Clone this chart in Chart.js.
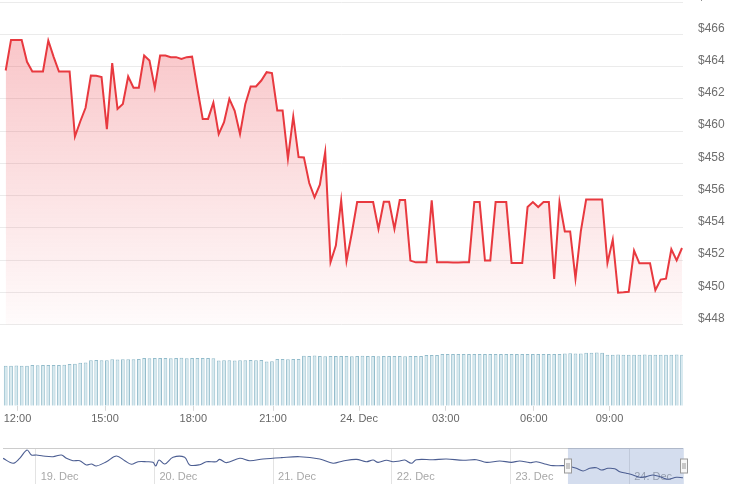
<!DOCTYPE html>
<html>
<head>
<meta charset="utf-8">
<script src="https://cdn.jsdelivr.net/npm/chart.js@4.4.0/dist/chart.umd.min.js"></script>
<style>
body{margin:0;background:#fff}
#wrap{position:relative;width:749px;height:495px;overflow:hidden}
#main{position:absolute;left:0;top:-5px}
#nav{position:absolute;left:0;top:440px}
</style>
</head>
<body>
<div id="wrap">
<canvas id="main" width="749" height="433"></canvas>
<canvas id="nav" width="749" height="50"></canvas>
</div>
<script>
// price, one point per bar (23 Dec ~11:35 -> 24 Dec ~10:55)
const prices = [
463.76, 465.66, 465.66, 465.66, 464.30, 463.70, 463.70, 463.70, 465.62, 464.61,
463.70, 463.70, 463.70, 459.67, 460.60, 461.45, 463.45, 463.43, 463.35, 460.13,
464.22, 461.38, 461.69, 463.39, 462.70, 462.70, 464.69, 464.38, 462.70, 464.69,
464.69, 464.59, 464.59, 464.48, 464.59, 464.62, 462.63, 460.76, 460.76, 461.77,
459.82, 460.56, 462.00, 461.26, 459.82, 461.69, 462.77, 462.77, 463.14, 463.66,
463.60, 461.28, 461.28, 458.29, 460.91, 458.39, 458.37, 456.78, 455.89, 456.68,
458.70, 451.87, 452.90, 455.70, 451.95, 453.68, 455.60, 455.60, 455.60, 455.60,
453.93, 455.62, 455.62, 453.93, 455.73, 455.73, 451.97, 451.86, 451.86, 451.86,
455.70, 451.86, 451.86, 451.86, 451.85, 451.85, 451.86, 451.86, 455.60, 455.60,
451.97, 451.97, 455.60, 455.60, 455.60, 451.82, 451.82, 451.82, 455.29, 455.60,
455.29, 455.60, 455.60, 450.83, 455.60, 453.78, 453.78, 450.85, 453.78, 455.76,
455.76, 455.76, 455.76, 451.82, 453.27, 449.98, 450.00, 450.03, 452.59, 451.80,
451.80, 451.80, 450.13, 450.79, 450.85, 452.67, 451.98, 452.75
]

const volumes = [
40.0, 40.0, 40.2, 40.0, 40.0, 40.7, 40.6, 40.7, 40.8, 40.7,
40.7, 40.9, 41.7, 41.9, 43.0, 43.2, 45.5, 45.8, 45.6, 45.5,
46.5, 46.3, 46.6, 46.5, 46.4, 46.8, 47.7, 47.5, 47.7, 47.8,
47.7, 47.6, 47.7, 47.9, 47.5, 47.7, 47.8, 47.7, 47.7, 47.6,
45.3, 45.6, 45.4, 45.3, 45.5, 45.6, 45.7, 45.6, 45.8, 44.3,
44.6, 46.7, 46.7, 46.6, 46.8, 46.7, 50.0, 49.8, 50.3, 49.7,
49.6, 49.7, 49.8, 49.7, 49.7, 49.6, 49.7, 49.9, 49.7, 49.7,
49.6, 49.7, 49.8, 49.7, 49.7, 49.6, 49.7, 49.7, 49.8, 50.7,
50.8, 50.6, 51.7, 51.7, 51.8, 51.7, 51.7, 51.6, 51.7, 51.7,
51.7, 51.8, 51.7, 51.7, 51.6, 51.7, 51.7, 51.7, 51.8, 51.7,
51.7, 51.6, 51.7, 51.7, 51.7, 52.3, 52.4, 52.3, 52.3, 53.0,
53.0, 53.1, 53.0, 51.0, 51.0, 51.1, 51.0, 50.9, 51.0, 51.0,
51.1, 51.0, 51.0, 50.9, 51.0, 51.0, 51.1, 51.0
]

const timeTickPos = [2.22, 18.65, 35.23, 50.2, 66.35, 82.65, 99.17, 113.39]
const timeTickLabels = ['12:00', '15:00', '18:00', '21:00', '24. Dec', '03:00', '06:00', '09:00']
const priceTicks = [448, 450, 452, 454, 456, 458, 460, 462, 464, 466, 468]

// navigator: days counted from 18 Dec 00:00
const navDays = [
0.725, 0.809, 0.865, 0.927, 0.964, 1.006, 1.062, 1.146, 1.217, 1.259,
1.314, 1.371, 1.427, 1.469, 1.511, 1.596, 1.680, 1.750, 1.806, 1.862,
1.933, 1.988, 2.011, 2.039, 2.087, 2.157, 2.255, 2.297, 2.382, 2.438,
2.522, 2.550, 2.607, 2.719, 2.803, 2.915, 3.070, 3.224, 3.393, 3.505,
3.589, 3.702, 3.786, 3.842, 3.884, 3.955, 4.010, 4.067, 4.109, 4.165,
4.207, 4.347, 4.460, 4.600, 4.713, 4.797, 4.909, 5.008, 5.078, 5.162,
5.218, 5.302, 5.358, 5.442, 5.484, 5.555, 5.611, 5.667, 5.724, 5.766,
5.821, 5.878, 5.920, 5.976, 6.032, 6.089, 6.145, 6.201, 6.271, 6.327,
6.398, 6.453
]
const navPrices = [
475.0, 469.2, 475.0, 484.7, 478.9, 478.9, 477.7, 476.9, 478.9, 475.0,
472.2, 472.2, 467.2, 468.3, 466.0, 471.0, 477.7, 472.2, 468.0, 471.0,
471.0, 470.3, 466.0, 473.0, 468.3, 476.2, 476.2, 467.2, 467.5, 471.0,
471.0, 473.8, 469.9, 475.0, 472.2, 474.2, 475.8, 476.9, 474.2, 469.2,
471.9, 473.8, 471.0, 473.0, 470.3, 472.7, 471.0, 471.9, 473.0, 469.2,
473.4, 473.4, 474.2, 472.7, 473.4, 470.3, 471.9, 470.3, 471.9, 469.9,
471.0, 468.0, 466.4, 466.4, 466.0, 463.3, 460.2, 463.3, 464.0, 461.3,
463.3, 462.8, 459.3, 457.5, 455.5, 452.8, 453.5, 455.5, 452.8, 450.4,
452.8, 452.3
]
const navDayTicks = [1, 2, 3, 4, 5, 6]
const navDayLabels = ['19. Dec', '20. Dec', '21. Dec', '22. Dec', '23. Dec', '24. Dec']
const navRange = [5.484, 6.46]

Chart.defaults.font.family = '"Liberation Sans", Arial, sans-serif'

const priceData = prices.map((p, i) => ({x: i, y: p}))
const volData = volumes.map((v, i) => ({x: i, y: v}))

function redFill(c) {
  const chart = c.chart
  const area = chart.chartArea
  if (!area) return 'rgba(234,57,67,0.15)'
  const g = chart.ctx.createLinearGradient(0, area.top, 0, chart.scales.y.getPixelForValue(448))
  g.addColorStop(0, 'rgba(234,57,67,0.32)')
  g.addColorStop(1, 'rgba(234,57,67,0.02)')
  return g
}

new Chart(document.getElementById('main'), {
  type: 'line',
  data: {
    datasets: [
      {type: 'line', data: priceData, yAxisID: 'y', borderColor: '#e8393f', borderWidth: 2,
        pointRadius: 0, tension: 0, fill: {value: 448}, backgroundColor: redFill},
      {type: 'bar', data: volData, yAxisID: 'yv', backgroundColor: '#d6e9ef', borderColor: '#93bccb',
        borderWidth: 1, barPercentage: 0.7, categoryPercentage: 1}
    ]
  },
  options: {
    responsive: false,
    animation: false,
    layout: {padding: 0},
    plugins: {legend: {display: false}, tooltip: {enabled: false}},
    scales: {
      x: {
        type: 'linear', min: -1.07, max: 127.19, offset: false,
        grid: {drawOnChartArea: false, offset: false, tickLength: 5, color: '#d8d8d8'},
        border: {display: false},
        ticks: {padding: 2, color: '#666', font: {size: 11}, maxRotation: 0, autoSkip: false,
          callback: (v, i) => timeTickLabels[i]},
        afterBuildTicks: s => { s.ticks = timeTickPos.map(v => ({value: v})) }
      },
      y: {
        position: 'right', min: 442.96, max: 468,
        grid: {color: '#ebebeb', drawTicks: true, tickLength: 15, tickColor: 'rgba(0,0,0,0)'},
        border: {display: false},
        ticks: {padding: 0, labelOffset: -6, color: '#6e6e6e', font: {size: 12},
          callback: v => '$' + v},
        afterBuildTicks: s => { s.ticks = priceTicks.map(v => ({value: v})) },
        afterFit: s => { s.width = 66 }
      },
      yv: {position: 'right', display: false, min: 0, max: 403}
    }
  }
})

const navMask = {
  id: 'navMask',
  beforeDatasetsDraw(chart) {
    const {ctx, chartArea, scales} = chart
    const x1 = scales.x.getPixelForValue(navRange[0])
    const x2 = scales.x.getPixelForValue(navRange[1])
    ctx.save()
    ctx.fillStyle = 'rgba(102,133,194,0.28)'
    ctx.fillRect(x1, chartArea.top, x2 - x1, chartArea.bottom - chartArea.top)
    ctx.restore()
  },
  afterDatasetsDraw(chart) {
    const {ctx, chartArea, scales} = chart
    const mid = (chartArea.top + chartArea.bottom) / 2
    ctx.save()
    navRange.forEach(d => {
      const x = Math.round(scales.x.getPixelForValue(d))
      ctx.fillStyle = '#f7f7f7'
      ctx.strokeStyle = '#999'
      ctx.lineWidth = 1
      ctx.fillRect(x - 3.5, mid - 7, 7, 14)
      ctx.strokeRect(x - 3.5, mid - 7, 7, 14)
      ctx.beginPath()
      ctx.moveTo(x - 1, mid - 3); ctx.lineTo(x - 1, mid + 3)
      ctx.moveTo(x + 1, mid - 3); ctx.lineTo(x + 1, mid + 3)
      ctx.stroke()
    })
    ctx.restore()
  }
}

new Chart(document.getElementById('nav'), {
  type: 'line',
  data: {
    datasets: [{data: navDays.map((d, i) => ({x: d, y: navPrices[i]})), borderColor: '#4c5e92',
      borderWidth: 1.1, pointRadius: 0, tension: 0.35, fill: false}]
  },
  options: {
    responsive: false,
    animation: false,
    layout: {padding: {left: 3, right: 66, top: 8, bottom: 6}},
    plugins: {legend: {display: false}, tooltip: {enabled: false}},
    scales: {
      x: {
        type: 'linear', min: 0.7245, max: 6.4532,
        grid: {color: '#e3e3e3', drawTicks: false},
        border: {display: false},
        ticks: {mirror: true, align: 'start', labelOffset: 5, padding: 0.6, color: '#a8a8a8', font: {size: 11},
          autoSkip: false, maxRotation: 0, callback: (v, i) => navDayLabels[i]},
        afterBuildTicks: s => { s.ticks = navDayTicks.map(v => ({value: v})) },
        afterFit: s => { s.height = 0 }
      },
      y: {
        position: 'right', min: 444.9, max: 487.1,
        ticks: {display: false},
        grid: {drawTicks: false, color: c => (c.tick && c.tick.value === 487.1) ? '#cccccc' : 'rgba(0,0,0,0)'},
        border: {display: false},
        afterBuildTicks: s => { s.ticks = [{value: 487.1}] },
        afterFit: s => { s.width = 0 }
      }
    }
  },
  plugins: [navMask]
})
</script>
</body>
</html>
